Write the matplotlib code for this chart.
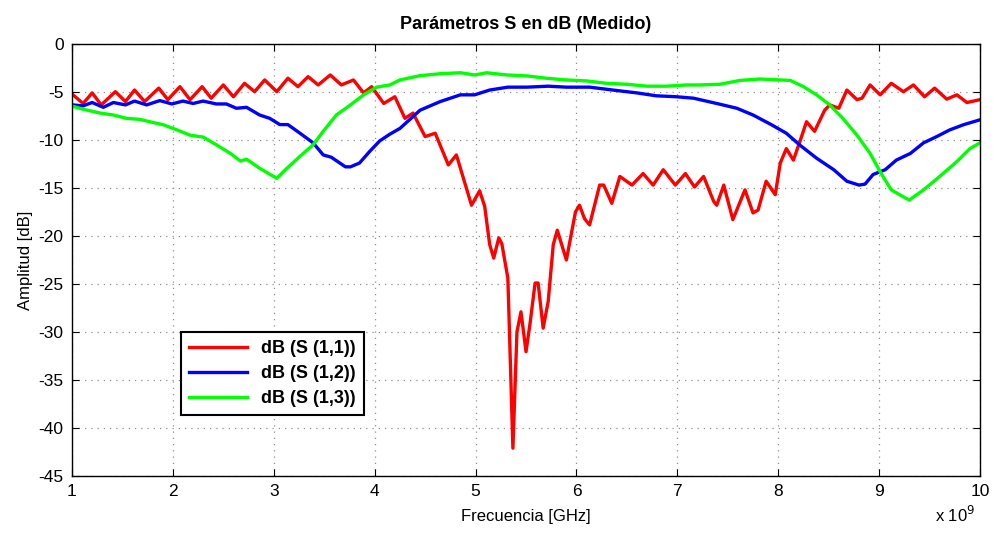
import matplotlib
matplotlib.use("Agg")
import matplotlib.pyplot as plt
import numpy as np

plt.rcParams.update({
    "font.family": ["Liberation Sans", "DejaVu Sans"],
    "font.size": 12,
    "axes.linewidth": 1.0,
    "axes.unicode_minus": False,
    "xtick.direction": "in",
    "ytick.direction": "in",
    "xtick.top": True,
    "ytick.right": True,
})

# Frecuencia en GHz (eje en unidades de 1e9 Hz), amplitud en dB
f_s11 = [1.01, 1.11, 1.20, 1.29, 1.43, 1.53, 1.62, 1.72, 1.86, 1.95, 2.07, 2.17, 2.29, 2.38,
         2.50, 2.60, 2.71, 2.81, 2.91, 3.03, 3.14, 3.24, 3.34, 3.44, 3.56, 3.67, 3.79, 3.89,
         3.97, 4.09, 4.20, 4.30, 4.38, 4.50, 4.60, 4.73, 4.81, 4.96, 5.04, 5.09, 5.14, 5.18,
         5.23, 5.26, 5.32, 5.37, 5.41, 5.45, 5.50, 5.54, 5.59, 5.62, 5.67, 5.72, 5.77, 5.81,
         5.90, 5.99, 6.03, 6.08, 6.13, 6.23, 6.27, 6.35, 6.43, 6.55, 6.66, 6.76, 6.86, 6.98,
         7.08, 7.17, 7.26, 7.36, 7.39, 7.46, 7.55, 7.67, 7.75, 7.80, 7.88, 7.97, 8.02, 8.08,
         8.15, 8.21, 8.28, 8.36, 8.46, 8.51, 8.60, 8.68, 8.78, 8.83, 8.91, 9.01, 9.12, 9.24,
         9.34, 9.45, 9.55, 9.67, 9.77, 9.87, 10.0]
s11 = [-5.3, -6.2, -5.1, -6.35, -4.97, -6.0, -4.8, -6.0, -4.6, -5.8, -4.45, -5.8, -4.45, -5.65,
       -4.27, -5.5, -4.1, -4.97, -3.75, -4.97, -3.57, -4.45, -3.4, -4.27, -3.23, -4.27, -3.75, -5.1,
       -4.45, -6.2, -5.5, -7.75, -7.2, -9.65, -9.3, -12.6, -11.56, -16.8, -15.3, -16.9, -20.9, -22.3,
       -20.2, -20.8, -24.4, -42.1, -30.0, -27.9, -32.05, -29.1, -24.9, -24.9, -29.6, -26.8, -20.9, -19.4,
       -22.5, -17.5, -16.8, -18.2, -18.85, -14.7, -14.7, -16.6, -13.8, -14.7, -13.5, -14.7, -13.1, -14.7,
       -13.5, -14.9, -13.8, -16.4, -16.8, -14.7, -18.3, -15.2, -17.6, -17.3, -14.3, -15.7, -12.4, -10.9,
       -12.1, -10.3, -8.1, -9.1, -6.9, -6.35, -6.7, -4.8, -5.8, -5.65, -4.27, -5.3, -4.1, -4.97,
       -4.27, -5.5, -4.6, -5.75, -5.3, -6.1, -5.8]

f_s12 = [1.01, 1.11, 1.20, 1.31, 1.41, 1.53, 1.62, 1.74, 1.87, 1.99, 2.10, 2.20, 2.30, 2.43,
         2.53, 2.63, 2.73, 2.86, 2.96, 3.06, 3.14, 3.26, 3.39, 3.49, 3.57, 3.71, 3.76, 3.85,
         3.95, 4.05, 4.15, 4.25, 4.45, 4.65, 4.85, 4.99, 5.14, 5.32, 5.51, 5.72, 5.90, 6.13,
         6.36, 6.60, 6.79, 6.99, 7.16, 7.39, 7.59, 7.75, 7.93, 8.08, 8.21, 8.38, 8.55, 8.68,
         8.80, 8.86, 8.94, 9.06, 9.17, 9.31, 9.44, 9.57, 9.70, 9.84, 10.0]
s12 = [-6.35, -6.45, -6.1, -6.6, -6.1, -6.35, -5.95, -6.35, -5.9, -6.25, -5.95, -6.2, -5.95, -6.25,
       -6.25, -6.7, -6.6, -7.4, -7.75, -8.4, -8.4, -9.3, -10.3, -11.56, -11.8, -12.8, -12.8, -12.4,
       -11.2, -10.1, -9.4, -8.8, -6.9, -6.0, -5.3, -5.3, -4.8, -4.5, -4.5, -4.4, -4.5, -4.5,
       -4.8, -5.1, -5.4, -5.5, -5.65, -6.2, -6.7, -7.4, -8.4, -9.3, -10.5, -11.9, -13.1, -14.3,
       -14.7, -14.6, -13.6, -13.1, -12.1, -11.4, -10.3, -9.65, -8.95, -8.4, -7.9]

f_s13 = [1.01, 1.11, 1.28, 1.41, 1.54, 1.67, 1.81, 1.90, 2.04, 2.17, 2.30, 2.43, 2.57, 2.67,
         2.73, 2.86, 3.03, 3.13, 3.26, 3.39, 3.49, 3.62, 3.76, 3.89, 4.02, 4.15, 4.25, 4.45,
         4.65, 4.85, 4.99, 5.11, 5.31, 5.51, 5.70, 5.90, 6.10, 6.30, 6.50, 6.70, 6.89, 7.09,
         7.22, 7.42, 7.62, 7.82, 8.02, 8.12, 8.25, 8.38, 8.51, 8.64, 8.78, 8.91, 9.02, 9.12,
         9.27, 9.30, 9.44, 9.60, 9.77, 9.90, 10.0]
s13 = [-6.5, -6.8, -7.2, -7.4, -7.75, -7.85, -8.2, -8.4, -8.95, -9.5, -9.7, -10.5, -11.4, -12.2,
       -12.0, -12.95, -14.0, -12.95, -11.7, -10.5, -9.1, -7.4, -6.35, -5.3, -4.5, -4.27, -3.75, -3.3,
       -3.1, -3.0, -3.23, -3.0, -3.23, -3.33, -3.57, -3.75, -3.85, -4.1, -4.2, -4.4, -4.4, -4.27,
       -4.27, -4.2, -3.8, -3.65, -3.75, -3.8, -4.45, -5.3, -6.35, -7.75, -9.5, -11.4, -13.5, -15.2,
       -16.1, -16.25, -15.2, -13.8, -12.25, -10.9, -10.3]

labels = ["dB (S (1,1))", "dB (S (1,2))", "dB (S (1,3))"]
xticks = list(range(1, 11))
yticks = list(range(-45, 1, 5))

fig = plt.figure(figsize=(9.97, 5.36), dpi=100)
ax = fig.add_axes([0.0722, 0.112, 0.9108, 0.806])

ax.plot(f_s11, s11, color="#ff0000", lw=2.4, label=labels[0])
ax.plot(f_s12, s12, color="#0000ff", lw=2.4, label=labels[1])
ax.plot(f_s13, s13, color="#00ff00", lw=2.4, label=labels[2])

ax.set_xlim(1, 10)
ax.set_ylim(-45, 0)
ax.set_xticks(xticks)
ax.set_yticks(yticks)
ax.grid(True, color="#909090", linestyle=(0, (1, 4)), linewidth=0.9)
ax.tick_params(length=5, width=0.8, labelsize=12.5, pad=6)

ax.set_title("Parámetros S en dB (Medido)", fontsize=13, fontweight="bold", pad=11)
ax.set_xlabel("Frecuencia [GHz]", fontsize=12, labelpad=7)
ax.set_ylabel("Amplitud [dB]", fontsize=12, labelpad=4)

leg = ax.legend(loc="lower left", bbox_to_anchor=(0.12, 0.14), borderaxespad=0,
                fancybox=False, edgecolor="black", framealpha=1,
                prop={"weight": "bold", "size": 13}, handlelength=3.2,
                labelspacing=0.45, borderpad=0.45)
leg.get_frame().set_linewidth(1.5)

fig.text(0.978, 0.02, "x 10$^{9}$", ha="right", va="bottom", fontsize=12)

fig.savefig("out.png", dpi=100)
